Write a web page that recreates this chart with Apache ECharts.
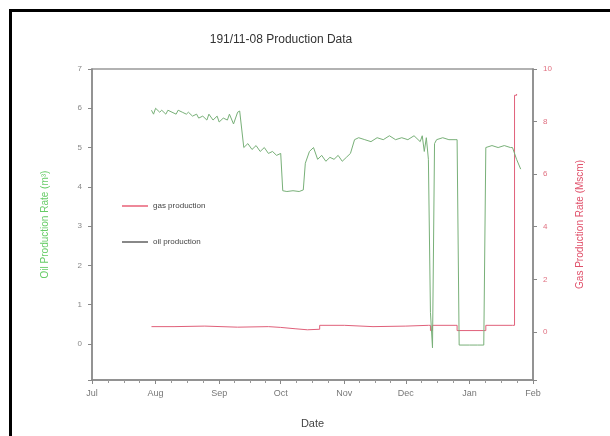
<!DOCTYPE html>
<html><head><meta charset="utf-8">
<script src="https://cdn.jsdelivr.net/npm/echarts@6/dist/echarts.min.js"></script>
<style>html,body{margin:0;padding:0;background:#fff}#c{width:610px;height:436px}</style>
</head><body><div id="c"></div>
<script>
const title = "191/11-08 Production Data";
const monthNames = ["Jan","Feb","Mar","Apr","May","Jun","Jul","Aug","Sep","Oct","Nov","Dec"];
const oilDates = ["2008-07-30","2008-07-31","2008-08-01","2008-08-03","2008-08-04","2008-08-06","2008-08-07","2008-08-09","2008-08-11","2008-08-12","2008-08-14","2008-08-16","2008-08-17","2008-08-19","2008-08-21","2008-08-22","2008-08-24","2008-08-26","2008-08-27","2008-08-29","2008-08-31","2008-09-01","2008-09-03","2008-09-05","2008-09-06","2008-09-08","2008-09-10","2008-09-11","2008-09-13","2008-09-15","2008-09-17","2008-09-19","2008-09-21","2008-09-23","2008-09-25","2008-09-27","2008-09-29","2008-10-01","2008-10-02","2008-10-04","2008-10-07","2008-10-10","2008-10-12","2008-10-13","2008-10-15","2008-10-17","2008-10-19","2008-10-21","2008-10-23","2008-10-25","2008-10-27","2008-10-29","2008-10-31","2008-11-02","2008-11-04","2008-11-06","2008-11-08","2008-11-11","2008-11-14","2008-11-17","2008-11-20","2008-11-23","2008-11-26","2008-11-29","2008-12-02","2008-12-05","2008-12-08","2008-12-09","2008-12-10","2008-12-11","2008-12-12","2008-12-13","2008-12-14","2008-12-15","2008-12-16","2008-12-19","2008-12-22","2008-12-25","2008-12-26","2008-12-27","2009-01-01","2009-01-05","2009-01-08","2009-01-09","2009-01-12","2009-01-15","2009-01-18","2009-01-21","2009-01-22","2009-01-24","2009-01-26"];
const oilValues = [5.95,5.85,6.0,5.9,5.95,5.85,5.95,5.9,5.85,5.95,5.9,5.85,5.9,5.8,5.85,5.75,5.8,5.7,5.85,5.7,5.8,5.65,5.75,5.7,5.85,5.6,5.9,5.93,5.0,5.1,4.95,5.05,4.9,5.0,4.85,4.9,4.8,4.85,3.9,3.88,3.9,3.88,3.92,4.6,4.9,5.0,4.7,4.8,4.65,4.75,4.7,4.8,4.65,4.75,4.85,5.2,5.25,5.2,5.15,5.25,5.2,5.3,5.2,5.25,5.2,5.3,5.15,5.3,4.9,5.25,4.7,0.8,-0.1,5.1,5.2,5.25,5.2,5.2,5.2,-0.03,-0.03,-0.03,-0.03,5.0,5.05,5.0,5.05,5.0,5.0,4.7,4.45];
const gasDates = ["2008-07-30","2008-08-10","2008-08-25","2008-09-10","2008-09-25","2008-10-01","2008-10-08","2008-10-14","2008-10-20","2008-11-01","2008-11-15","2008-12-01","2008-12-12","2008-12-13","2008-12-14","2008-12-25","2008-12-26","2009-01-08","2009-01-09","2009-01-22","2009-01-23","2009-01-24"];
const gasValues = [0.2,0.22,0.18,0.2,0.17,0.12,0.08,0.1,0.25,0.2,0.22,0.25,0.25,0.05,0.25,0.25,0.05,0.05,0.25,0.25,9.0,9.05];
const leftTicks = [0,1,2,3,4,5,6,7];
const rightTicks = [0,2,4,6,8,10];

const oilData = oilDates.map((d,i)=>[d,oilValues[i]]);
const gasData = gasDates.map((d,i)=>[d,gasValues[i]]);
const chart = echarts.init(document.getElementById('c'));
chart.setOption({
  animation:false,
  backgroundColor:'#fff',
  title:{text:title,left:276,textAlign:'center',top:29,textStyle:{fontFamily:'Liberation Sans',fontSize:12,fontWeight:'normal',color:'#333'}},
  grid:{left:92,right:77,top:69,bottom:56,show:true,borderColor:'#999',borderWidth:1.5},
  legend:{orient:'vertical',left:117,top:197,itemGap:28,itemWidth:26,itemHeight:2,icon:'rect',
    textStyle:{fontFamily:'Liberation Sans',fontSize:8,color:'#444'},
    data:[{name:'gas production',itemStyle:{color:'#ee8899'}},{name:'oil production',itemStyle:{color:'#888'}}]},
  xAxis:{type:'time',min:'2008-07-01',max:'2009-02-01',minInterval:28*86400000,maxInterval:32*86400000,
    name:'Date',nameLocation:'middle',nameGap:38,nameTextStyle:{fontFamily:'Liberation Sans',fontSize:11,color:'#444'},
    axisLine:{onZero:false,lineStyle:{color:'#888',width:1.5}},
    axisTick:{show:true,length:4,lineStyle:{color:'#888'}},
    minorTick:{show:true,splitNumber:4,length:3,lineStyle:{color:'#999'}},
    splitLine:{show:false},
    axisLabel:{fontFamily:'Liberation Sans',fontSize:9,color:'#777',margin:9,hideOverlap:false,showMinLabel:true,showMaxLabel:true,
      formatter:v=>monthNames[new Date(v).getMonth()]}},
  yAxis:[
    {type:'value',min:-0.92,max:7,splitNumber:8,position:'left',
     name:'Oil Production Rate (m³)',nameLocation:'middle',nameGap:42,
     nameTextStyle:{fontFamily:'Liberation Sans',fontSize:10,color:'#66cc66'},
     axisLine:{show:true,lineStyle:{color:'#888',width:1.5}},axisTick:{show:true,length:4,lineStyle:{color:'#888'}},
     splitLine:{show:false},
     axisLabel:{fontFamily:'Liberation Sans',fontSize:8,color:'#888',margin:10,
       formatter:v=>leftTicks.includes(Math.round(v*100)/100)?String(Math.round(v)):''}},
    {type:'value',min:-1.83,max:10,splitNumber:6,position:'right',
     name:'Gas Production Rate (Mscm)',nameLocation:'middle',nameGap:42,
     nameTextStyle:{fontFamily:'Liberation Sans',fontSize:10,color:'#e0506a'},
     axisLine:{show:true,lineStyle:{color:'#888',width:1.5}},axisTick:{show:true,length:4,lineStyle:{color:'#888'}},
     splitLine:{show:false},
     axisLabel:{fontFamily:'Liberation Sans',fontSize:8,color:'#e07080',margin:10,
       formatter:v=>rightTicks.includes(Math.round(v*100)/100)?String(Math.round(v)):''}}
  ],
  series:[
    {name:'gas production',type:'line',yAxisIndex:1,data:gasData,showSymbol:false,step:'end',
     lineStyle:{color:'#e0607a',width:1},itemStyle:{color:'#e0607a'}},
    {name:'oil production',type:'line',yAxisIndex:0,data:oilData,showSymbol:false,
     lineStyle:{color:'#78b078',width:1},itemStyle:{color:'#78b078'}}
  ],
  graphic:[
    {type:'line',shape:{x1:9,y1:10.5,x2:610,y2:10.5},style:{stroke:'#000',lineWidth:3}},
    {type:'line',shape:{x1:10.5,y1:9,x2:10.5,y2:436},style:{stroke:'#000',lineWidth:3}}
  ]
});
</script></body></html>
